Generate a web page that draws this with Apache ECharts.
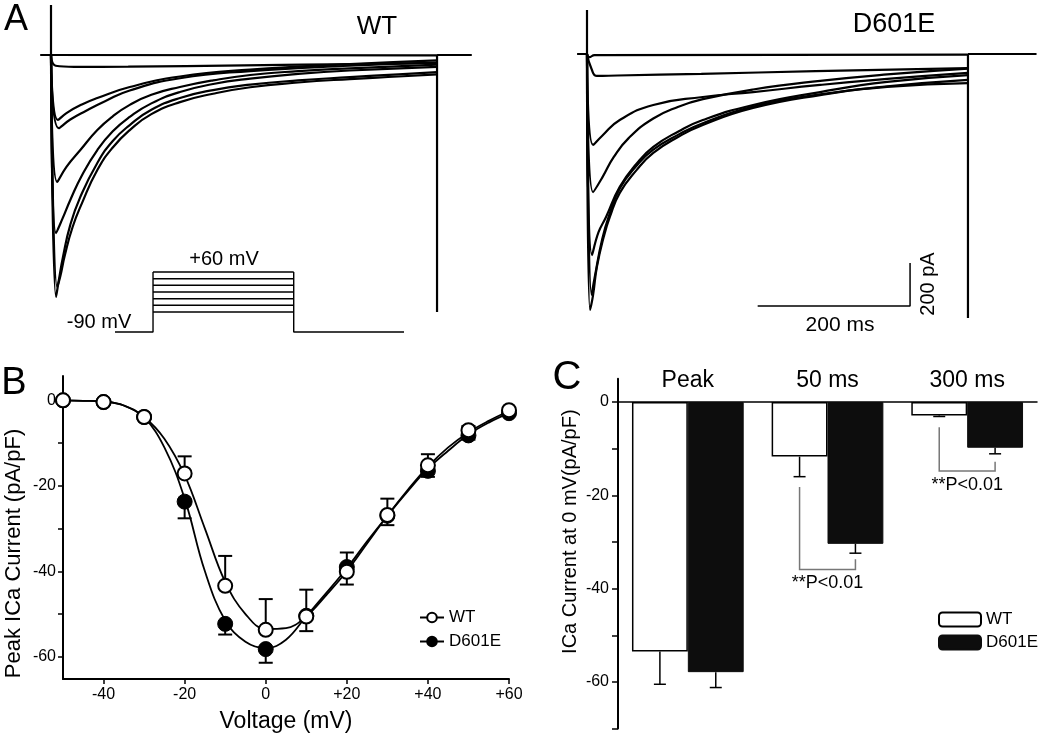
<!DOCTYPE html>
<html><head><meta charset="utf-8">
<script src="https://cdn.jsdelivr.net/npm/echarts@6/dist/echarts.min.js"></script>
<style>html,body{margin:0;padding:0;background:#fff}#c{width:1050px;height:738px}</style>
</head><body><div id="c"></div>
<script>
// ---------- Panel A: current traces (time ms, current pA) ----------
const wtTrace1 = [[0,0],[500,-2]];
const wtTrace2 = [[0,0],[6,-50],[30,-55],[100,-54],[250,-48],[400,-42],[500,-37]];
const wtTrace3 = [[0,0],[9,-302],[20,-270],[40,-230],[60,-200],[102,-149],[167,-100],[258,-68],[387,-42],[500,-25]];
const wtTrace4 = [[0,0],[10,-340],[25,-300],[45,-260],[70,-215],[102,-165],[167,-108],[258,-75],[387,-50],[500,-35]];
const wtTrace5 = [[0,0],[8,-590],[20,-520],[38,-442],[60,-349],[80,-285],[102,-232],[130,-185],[167,-149],[210,-118],[258,-93],[320,-75],[387,-62],[500,-45]];
const wtTrace6 = [[0,0],[6.5,-828],[15,-760],[25,-674],[40,-560],[60,-442],[80,-355],[102,-288],[130,-225],[167,-172],[210,-135],[258,-110],[320,-88],[387,-72],[500,-55]];
const wtTrace7 = [[0,0],[6.5,-1125],[10,-1050],[15.5,-939],[25,-790],[38,-660],[60,-502],[80,-400],[102,-326],[130,-255],[167,-200],[210,-163],[258,-138],[320,-118],[387,-103],[450,-90],[500,-80]];
const wtTrace8 = [[0,0],[8,-1079],[12,-1030],[18,-930],[28,-800],[40,-690],[60,-535],[80,-430],[102,-349],[130,-275],[167,-219],[210,-180],[258,-150],[320,-128],[387,-112],[450,-100],[500,-90]];
const wtEdges = [ [[-14,0],[0,0],[0,232],[0,0]], [[500,0],[500,-1195]], [[500,0],[545,0]] ];

const dTrace1 = [[0,0],[3,-15],[10,-5],[500,-3]];
const dTrace2 = [[0,0],[6,-70],[13,-102],[40,-100],[150,-92],[300,-80],[500,-66]];
const dTrace3 = [[0,0],[8,-423],[20,-380],[43,-307],[87,-237],[152,-200],[218,-177],[306,-144],[394,-116],[500,-88]];
const dTrace4 = [[0,0],[8,-642],[20,-575],[35,-480],[55,-390],[87,-300],[120,-245],[152,-210],[218,-165],[306,-125],[394,-95],[500,-68]];
const dTrace5 = [[0,0],[6.6,-935],[15,-830],[25,-758],[43,-618],[65,-510],[87,-432],[120,-360],[152,-307],[218,-237],[306,-177],[394,-130],[500,-98]];
const dTrace6 = [[0,0],[4,-1190],[8,-1120],[13,-990],[22,-850],[30,-758],[43,-646],[65,-540],[87,-460],[120,-385],[152,-330],[218,-251],[306,-191],[394,-153],[500,-135]];
const dTrace7 = [[0,0],[6,-1120],[10,-1040],[20,-860],[30,-740],[43,-625],[65,-520],[87,-445],[120,-375],[152,-322],[218,-245],[306,-188],[394,-150],[500,-120]];
const dEdges = [ [[-13,0],[0,0],[0,205],[0,0]], [[500,0],[500,-1228]], [[500,0],[590,0]] ];
const scaleBar = [[224,-1172],[424,-1172],[424,-972]];

// voltage protocol (time units, mV)
const holdLevel = -90;
const stepLevels = [60, 43, 27, 10, -7, -23, -40];
const protocolTimes = [0, 50, 235, 380];

// ---------- Panel B: I-V relation ----------
const voltages = [-50,-40,-30,-20,-10,0,10,20,30,40,50,60];
const wtIV   = [0,-0.4,-3.9,-17.1,-43.4,-53.7,-50.6,-40.1,-26.8,-15.2,-7.0,-2.3];
const wtSem  = [0,0,0.5,4.0,7.0,7.2,6.3,4.5,3.8,2.6,1.0,0.3];
const dIV    = [0,-0.4,-3.9,-23.7,-52.3,-58.2,-50.4,-39.0,-27.0,-16.5,-8.2,-3.0];
const dSem   = [0,0,0.5,3.9,2.5,3.2,3.6,4.1,2.2,1.4,1.0,0.3];
const fitV   = [-50,-45,-40,-35,-30,-25,-20,-15,-10,-5,0,5,10,15,20,25,30,35,40,45,50,55,60];
const wtFit  = [0,-0.1,-0.3,-1.2,-3.9,-9,-17.5,-30,-42.5,-50,-53.5,-53.3,-50.5,-45.5,-40,-33.5,-27,-21,-15.5,-11,-7.5,-4.8,-2.5];
const dFit   = [0,-0.1,-0.3,-1.2,-4,-11,-23,-40,-51.5,-56.5,-58,-56,-50.5,-45,-39.3,-33,-27,-21.3,-16,-11.8,-8,-5.2,-3];

// ---------- Panel C: bars ----------
const cCats  = ['Peak','50 ms','300 ms'];
const cWT    = [-53.5,-11.7,-2.9];
const cWTsem = [7.0,4.3,0.2];
const cD     = [-57.9,-30.4,-9.8];
const cDsem  = [3.3,2.0,1.3];
// brackets: category, start (WT side), bottom, end (D601E side), label value
const brackets = [[1,-18.2,-35.9,-33.7,-38.9],[2,-5.4,-14.8,-12.8,-17.8]];
const pLabel = '**P<0.01';

const FONT = 'Liberation Sans, Arial, sans-serif';
const chart = echarts.init(document.getElementById('c'), null, {renderer:'canvas'});

function traceSeries(data, xi, extra) {
  return Object.assign({
    type:'line', data, xAxisIndex:xi, yAxisIndex:xi, showSymbol:false, silent:true,
    lineStyle:{color:'#000', width:2.2}, smooth:0.5, animation:false, z:3
  }, extra||{});
}
const series = [];
[wtTrace1,wtTrace2,wtTrace3,wtTrace4,wtTrace5,wtTrace6,wtTrace7,wtTrace8].forEach(d=>series.push(traceSeries(d,0)));
wtEdges.forEach(d=>series.push(traceSeries(d,0,{smooth:false, lineStyle:{color:'#000',width:2.2}})));
[dTrace1,dTrace2,dTrace3,dTrace4,dTrace5,dTrace6,dTrace7].forEach(d=>series.push(traceSeries(d,1)));
dEdges.forEach(d=>series.push(traceSeries(d,1,{smooth:false, lineStyle:{color:'#000',width:2.2}})));
series.push(traceSeries(scaleBar,1,{smooth:false, lineStyle:{color:'#000',width:1.5}}));

// protocol
const [t0,t1,t2,t3] = protocolTimes;
series.push(traceSeries([[t0,holdLevel],[t1,holdLevel],[t1,stepLevels[0]]],2,{smooth:false,lineStyle:{color:'#000',width:1.4}}));
stepLevels.forEach(v=>series.push(traceSeries([[t1,v],[t2,v]],2,{smooth:false,lineStyle:{color:'#000',width:1.4}})));
series.push(traceSeries([[t2,stepLevels[0]],[t2,holdLevel],[t3,holdLevel]],2,{smooth:false,lineStyle:{color:'#000',width:1.4}}));

// Panel B
function errRender(hw, lw) {
  return function(params, api){
    const p0 = api.coord([api.value(0), api.value(1)]);
    const p1 = api.coord([api.value(0), api.value(2)]);
    return {type:'group', children:[
      {type:'line', shape:{x1:p0[0],y1:p0[1],x2:p1[0],y2:p1[1]}, style:{stroke:'#000',lineWidth:lw}},
      {type:'line', shape:{x1:p1[0]-hw,y1:p1[1],x2:p1[0]+hw,y2:p1[1]}, style:{stroke:'#000',lineWidth:lw}}
    ]};
  };
}
series.push({type:'line', name:'WT fit', xAxisIndex:3, yAxisIndex:3, data:fitV.map((v,i)=>[v,wtFit[i]]), showSymbol:false, smooth:0.4, lineStyle:{color:'#000',width:1.8}, silent:true, animation:false, z:2});
series.push({type:'line', name:'D601E fit', xAxisIndex:3, yAxisIndex:3, data:fitV.map((v,i)=>[v,dFit[i]]), showSymbol:false, smooth:0.4, lineStyle:{color:'#000',width:1.8}, silent:true, animation:false, z:2});
series.push({type:'custom', xAxisIndex:3, yAxisIndex:3, renderItem:errRender(7,2), silent:true, animation:false, z:3,
  data:voltages.map((v,i)=>[v,wtIV[i],wtIV[i]+wtSem[i]]).filter((d,i)=>wtSem[i]>0)});
series.push({type:'custom', xAxisIndex:3, yAxisIndex:3, renderItem:errRender(7,2), silent:true, animation:false, z:3,
  data:voltages.map((v,i)=>[v,dIV[i],dIV[i]-dSem[i]]).filter((d,i)=>dSem[i]>0)});
series.push({type:'line', name:'D601E', xAxisIndex:3, yAxisIndex:3, data:voltages.map((v,i)=>[v,dIV[i]]),
  symbol:'circle', symbolSize:15, itemStyle:{color:'#000',borderColor:'#000',borderWidth:1},
  lineStyle:{opacity:0,width:2,color:'#000'}, silent:true, animation:false, z:5});
series.push({type:'line', name:'WT', xAxisIndex:3, yAxisIndex:3, data:voltages.map((v,i)=>[v,wtIV[i]]),
  symbol:'circle', symbolSize:14, itemStyle:{color:'#fff',borderColor:'#000',borderWidth:2},
  lineStyle:{opacity:0,width:2,color:'#000'}, silent:true, animation:false, z:6});

// Panel C
series.push({type:'bar', name:'WT_bar', xAxisIndex:4, yAxisIndex:4, data:cWT, barWidth:'40%', barGap:'0%',
  itemStyle:{color:'#fff', borderColor:'#000', borderWidth:1.5}, silent:true, animation:false});
series.push({type:'bar', name:'D601E_bar', xAxisIndex:4, yAxisIndex:4, data:cD, barWidth:'40%', barGap:'0%',
  itemStyle:{color:'#0d0d0d', borderColor:'#0d0d0d', borderWidth:1}, silent:true, animation:false});
function barErrRender(side) {
  return function(params, api){
    const c = api.value(0);
    const off = api.size([1,0])[0]*0.2*side;
    const p0 = api.coord([c, api.value(1)]);
    const p1 = api.coord([c, api.value(2)]);
    const x = p0[0]+off;
    return {type:'group', children:[
      {type:'line', shape:{x1:x,y1:p0[1],x2:x,y2:p1[1]}, style:{stroke:'#000',lineWidth:1.5}},
      {type:'line', shape:{x1:x-6,y1:p1[1],x2:x+6,y2:p1[1]}, style:{stroke:'#000',lineWidth:1.5}}
    ]};
  };
}
series.push({type:'custom', xAxisIndex:4, yAxisIndex:4, renderItem:barErrRender(-1), silent:true, animation:false, z:4,
  data:cCats.map((c,i)=>[i,cWT[i],cWT[i]-cWTsem[i]])});
series.push({type:'custom', xAxisIndex:4, yAxisIndex:4, renderItem:barErrRender(1), silent:true, animation:false, z:4,
  data:cCats.map((c,i)=>[i,cD[i],cD[i]-cDsem[i]])});
series.push({type:'custom', xAxisIndex:4, yAxisIndex:4, silent:true, animation:false, z:4, data:brackets,
  renderItem:function(params, api){
    const c = api.value(0);
    const off = api.size([1,0])[0]*0.2;
    const pa = api.coord([c, api.value(1)]), pb = api.coord([c, api.value(2)]), pc = api.coord([c, api.value(3)]), pt = api.coord([c, api.value(4)]);
    const xl = pa[0]-off, xr = pa[0]+off;
    return {type:'group', children:[
      {type:'polyline', shape:{points:[[xl,pa[1]],[xl,pb[1]],[xr,pb[1]],[xr,pc[1]]]}, style:{stroke:'#777',lineWidth:1.5,fill:null}},
      {type:'text', x:pt[0], y:pt[1], style:{text:pLabel, fontFamily:FONT, fontSize:18, fill:'#000', align:'center', verticalAlign:'middle'}}
    ]};
  }});

const hiddenAxis = {show:false};
const option = {
  backgroundColor:'#fff',
  animation:false,
  textStyle:{fontFamily:FONT, color:'#000'},
  grid:[
    {left:35.56, top:1.24, width:447.8, height:333.3},
    {left:571.76, top:0.24, width:472.4, height:333.3},
    {left:115, top:268, width:289, height:68},
    {left:63, top:376, width:446, height:303},
    {left:618, top:378.7, width:419, height:349.9}
  ],
  xAxis:[
    Object.assign({type:'value', gridIndex:0, min:-20, max:560}, hiddenAxis),
    Object.assign({type:'value', gridIndex:1, min:-20, max:600}, hiddenAxis),
    Object.assign({type:'value', gridIndex:2, min:0, max:380}, hiddenAxis),
    {type:'value', gridIndex:3, min:-50, max:60, splitLine:{show:false},
      axisLine:{onZero:false, lineStyle:{color:'#000', width:2}},
      axisTick:{customValues:[-40,-20,0,20,40,60], length:5, lineStyle:{color:'#000',width:1.5}},
      axisLabel:{customValues:[-40,-20,0,20,40,60], margin:8, fontSize:16, color:'#000', fontFamily:FONT,
        formatter:v=> v>0 ? '+'+v : String(v)},
      name:'Voltage (mV)', nameLocation:'middle', nameGap:31, nameTextStyle:{fontSize:23, color:'#000', fontFamily:FONT}},
    {type:'category', gridIndex:4, data:cCats, position:'bottom',
      axisLine:{onZero:true, lineStyle:{color:'#000', width:1.5}},
      axisTick:{show:false}, axisLabel:{show:false}},
    {type:'category', gridIndex:4, data:cCats, position:'top', offset:-23.3,
      axisLine:{show:false}, axisTick:{show:false},
      axisLabel:{margin:10, fontSize:23, color:'#000', fontFamily:FONT}}
  ],
  yAxis:[
    Object.assign({type:'value', gridIndex:0, min:-1300, max:250}, hiddenAxis),
    Object.assign({type:'value', gridIndex:1, min:-1300, max:250}, hiddenAxis),
    Object.assign({type:'value', gridIndex:2, min:-100, max:70}, hiddenAxis),
    {type:'value', gridIndex:3, min:-65.2, max:5.7, splitLine:{show:false},
      axisLine:{show:true, onZero:false, lineStyle:{color:'#000', width:2}},
      axisTick:{show:true, customValues:[0,-10,-20,-30,-40,-50,-60], length:5, lineStyle:{color:'#000',width:1.5}},
      axisLabel:{customValues:[0,-20,-40,-60], margin:7, fontSize:16, color:'#000', fontFamily:FONT},
      name:'Peak ICa Current (pA/pF)', nameLocation:'middle', nameGap:38,
      nameTextStyle:{fontSize:22, color:'#000', fontFamily:FONT, padding:[0,52,0,0]}},
    {type:'value', gridIndex:4, min:-70, max:5, splitLine:{show:false},
      axisLine:{show:true, onZero:false, lineStyle:{color:'#000', width:2}},
      axisTick:{show:true, customValues:[0,-10,-20,-30,-40,-50,-60,-70], length:6, lineStyle:{color:'#000',width:1.5}},
      axisLabel:{customValues:[0,-20,-40,-60], margin:9, fontSize:16, color:'#000', fontFamily:FONT},
      name:'ICa Current at 0 mV(pA/pF)', nameLocation:'middle', nameGap:38,
      nameTextStyle:{fontSize:20, color:'#000', fontFamily:FONT, padding:[0,0,0,44]}}
  ],
  legend:[
    {data:['WT','D601E'], orient:'vertical', left:414, top:604, itemWidth:24, itemHeight:12, itemGap:7,
      textStyle:{fontSize:17, color:'#000', fontFamily:FONT}, lineStyle:{opacity:1, width:2, color:'#000'}, selectedMode:false},
    {data:['WT_bar','D601E_bar'], orient:'vertical', left:933, top:606, itemWidth:42, itemHeight:14, itemGap:6,
      formatter:n=>n.replace('_bar',''), textStyle:{fontSize:17, color:'#000', fontFamily:FONT}, selectedMode:false}
  ],
  graphic:[
    {type:'text', x:16, y:20, style:{text:'A', fontSize:36, fontFamily:FONT, fill:'#000', align:'center', verticalAlign:'middle'}},
    {type:'text', x:377, y:27, style:{text:'WT', fontSize:26, fontFamily:FONT, fill:'#000', align:'center', verticalAlign:'middle'}},
    {type:'text', x:894, y:25, style:{text:'D601E', fontSize:27, fontFamily:FONT, fill:'#000', align:'center', verticalAlign:'middle'}},
    {type:'text', x:224, y:259, style:{text:'+60 mV', fontSize:20, fontFamily:FONT, fill:'#000', align:'center', verticalAlign:'middle'}},
    {type:'text', x:99, y:322, style:{text:'-90 mV', fontSize:20, fontFamily:FONT, fill:'#000', align:'center', verticalAlign:'middle'}},
    {type:'text', x:840, y:325, style:{text:'200 ms', fontSize:21, fontFamily:FONT, fill:'#000', align:'center', verticalAlign:'middle'}},
    {type:'text', x:928, y:284, rotation:Math.PI/2, style:{text:'200 pA', fontSize:20, fontFamily:FONT, fill:'#000', align:'center', verticalAlign:'middle'}},
    {type:'text', x:14, y:384, style:{text:'B', fontSize:38, fontFamily:FONT, fill:'#000', align:'center', verticalAlign:'middle'}},
    {type:'text', x:567, y:378, style:{text:'C', fontSize:40, fontFamily:FONT, fill:'#000', align:'center', verticalAlign:'middle'}}
  ],
  series
};
chart.setOption(option);
</script></body></html>
